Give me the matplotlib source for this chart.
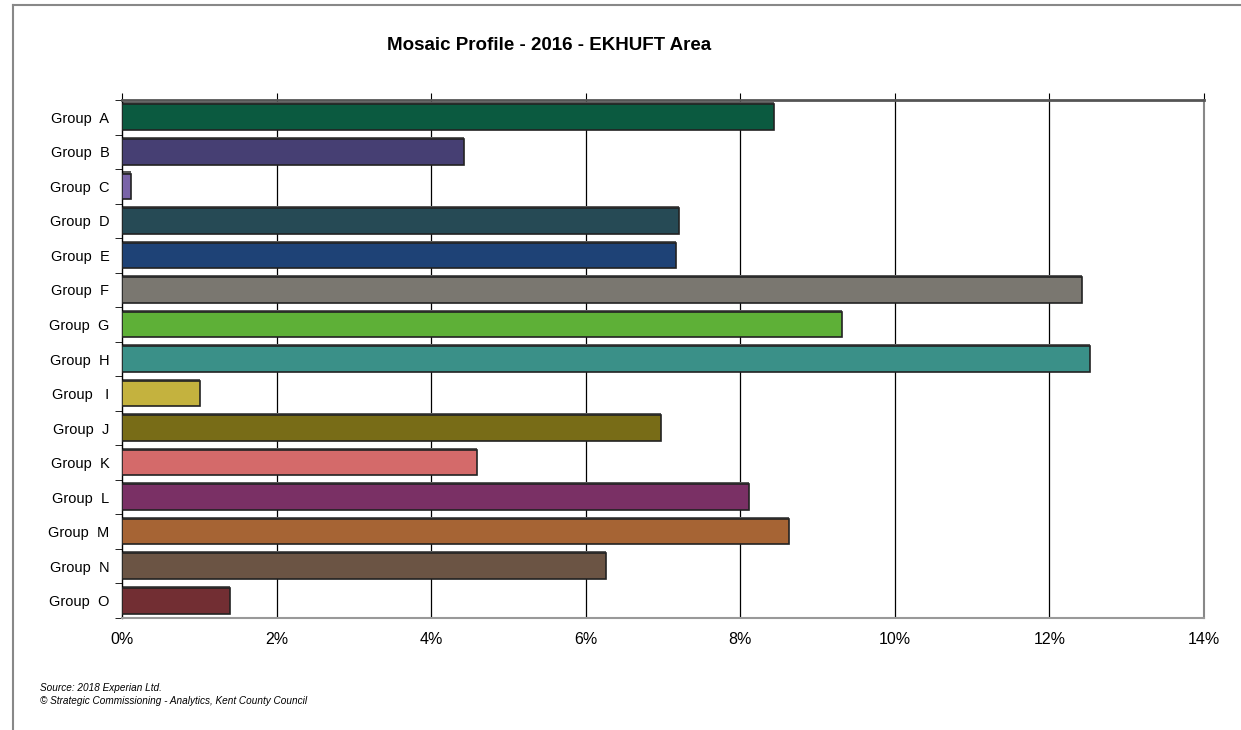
import numpy as np
import matplotlib
matplotlib.use("Agg")
import matplotlib.pyplot as plt
from matplotlib.lines import Line2D

groups = ["Group  A", "Group  B", "Group  C", "Group  D", "Group  E",
          "Group  F", "Group  G", "Group  H", "Group   I", "Group  J",
          "Group  K", "Group  L", "Group  M", "Group  N", "Group  O"]
values = [8.44, 4.43, 0.12, 7.21, 7.17, 12.42, 9.31, 12.52, 1.01, 6.97,
          4.59, 8.11, 8.63, 6.26, 1.40]
colours = ["#0b5a40", "#463f73", "#7a64a8", "#264a55", "#1e4276",
           "#7a7770", "#5eb037", "#3a9088", "#c4b23e", "#786c17",
           "#d46a6a", "#7a3065", "#a66434", "#6b5444", "#722e33"]
xticks = [0, 2, 4, 6, 8, 10, 12, 14]

plt.rcParams['font.family'] = ['Liberation Sans', 'DejaVu Sans']

fig = plt.figure(figsize=(12.41, 7.30), dpi=100)
ax = fig.add_axes([0.0983, 0.1534, 0.8719, 0.7096])

y = np.arange(len(groups))
# grey shadow along the top edge, then the bar itself
ax.barh(y - 0.04, values, height=0.78, color="#5a5a5a", zorder=2)
ax.barh(y, values, height=0.74, color=colours, edgecolor="#222222",
        linewidth=1.2, zorder=3)

ax.set_xlim(0, 14)
ax.set_ylim(14.5, -0.5)
ax.set_xticks(xticks)
ax.set_xticklabels(["%d%%" % t for t in xticks], fontsize=11.5)
ax.set_yticks(y)
ax.set_yticklabels(groups, fontsize=10.5)
ax.set_yticks(np.arange(-0.5, 15, 1), minor=True)

ax.tick_params(axis='x', bottom=False, top=True, labelbottom=True,
               labeltop=False, length=5, direction='out', pad=5)
ax.tick_params(axis='y', which='major', length=0, pad=9)
ax.tick_params(axis='y', which='minor', length=5, direction='out')

for t in xticks[1:-1]:
    ax.axvline(t, color="black", linewidth=0.9, zorder=1)

ax.spines['left'].set_color("black")
ax.spines['left'].set_linewidth(1)
ax.spines['top'].set_color("#555555")
ax.spines['top'].set_linewidth(2)
ax.spines['right'].set_color("#888888")
ax.spines['right'].set_linewidth(1.5)
ax.spines['bottom'].set_color("#999999")
ax.spines['bottom'].set_linewidth(1.5)

fig.text(0.4428, 0.938, "Mosaic Profile - 2016 - EKHUFT Area",
         ha='center', va='center', fontsize=13.5, fontweight='bold')

fig.text(0.0322, 0.0575, "Source: 2018 Experian Ltd.", fontsize=7.2,
         style='italic', va='center')
fig.text(0.0322, 0.0397, "\u00a9 Strategic Commissioning - Analytics, Kent County Council",
         fontsize=7.2, style='italic', va='center')

# outer frame (left and top only, as in the cropped original)
fig.add_artist(Line2D([0.0105, 0.0105], [0, 0.9932], color="#888888", linewidth=1.5))
fig.add_artist(Line2D([0.0105, 1], [0.9932, 0.9932], color="#888888", linewidth=1.5))

fig.savefig("out.png", dpi=100)
